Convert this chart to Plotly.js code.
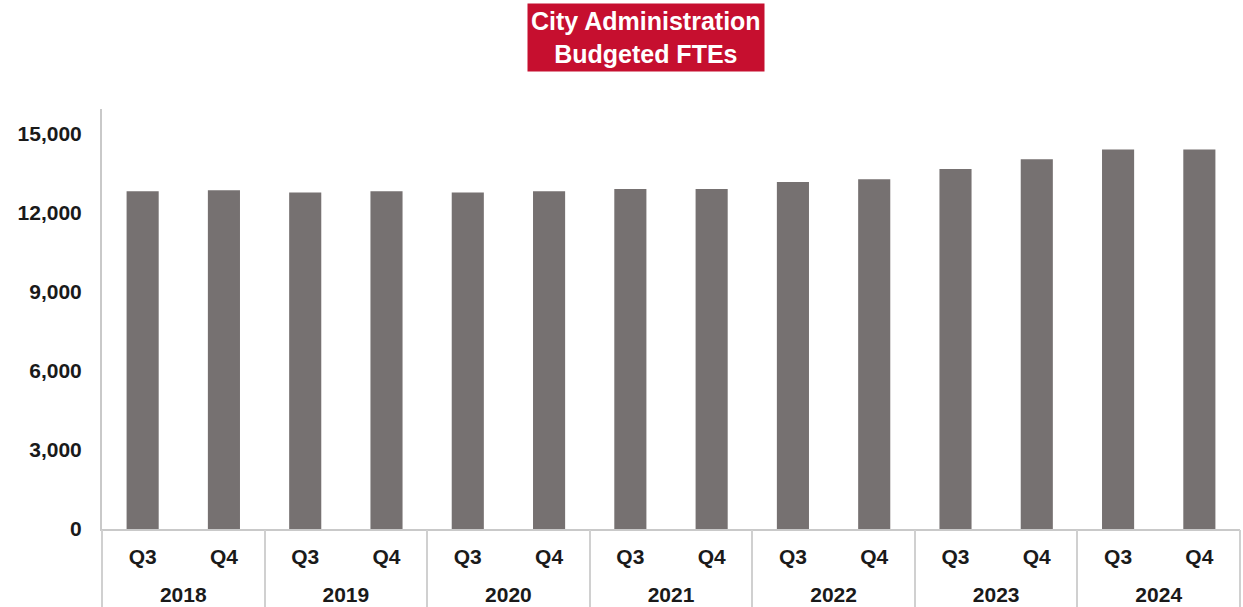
<!DOCTYPE html>
<html>
<head>
<meta charset="utf-8">
<script src="https://cdn.plot.ly/plotly-3.0.1.min.js"></script>
<style>html,body{margin:0;padding:0;background:#fff;}#chart{width:1243px;height:607px;}</style>
</head>
<body>
<div id="chart"></div>
<script>
var years = ["2018","2018","2019","2019","2020","2020","2021","2021","2022","2022","2023","2023","2024","2024"];
var quarters = ["Q3","Q4","Q3","Q4","Q3","Q4","Q3","Q4","Q3","Q4","Q3","Q4","Q3","Q4"];
var ftes = [12830, 12860, 12780, 12830, 12780, 12830, 12910, 12910, 13180, 13280, 13670, 14040, 14410, 14410];
var yearLabels = ["2018","2019","2020","2021","2022","2023","2024"];
var yTickVals = [0, 3000, 6000, 9000, 12000, 15000];
var yTickText = ["0", "3,000", "6,000", "9,000", "12,000", "15,000"];
var titleText = "City Administration<br>Budgeted FTEs";

var cats = years.map(function (y, i) { return y + " " + quarters[i]; });
// year group centres and boundaries in category index units
var yearCenters = yearLabels.map(function (_, i) { return 2 * i + 0.5; });
var dividers = [-0.5].concat(yearLabels.map(function (_, i) { return 2 * i + 1.5; }));

var FONT = "Liberation Sans, Arial, sans-serif";
var tickFont = {size: 21, family: FONT, color: "#1a1a1a", weight: "bold"};

var bars = {
  type: "bar",
  x: cats,
  y: ftes,
  marker: {color: "#767171", line: {width: 0}},
  hoverinfo: "y"
};
// invisible helper traces so the year-label and divider axes are drawn
var yearHelper = {
  type: "scatter", mode: "markers", xaxis: "x2", yaxis: "y",
  x: yearCenters, y: yearCenters.map(function () { return 0; }),
  marker: {opacity: 0, size: 1}, hoverinfo: "skip", showlegend: false
};
var dividerHelper = {
  type: "scatter", mode: "markers", xaxis: "x3", yaxis: "y",
  x: dividers, y: dividers.map(function () { return 0; }),
  marker: {opacity: 0, size: 1}, hoverinfo: "skip", showlegend: false
};

var layout = {
  width: 1243,
  height: 607,
  margin: {l: 102, r: 3, t: 109, b: 78, pad: 0},
  paper_bgcolor: "#ffffff",
  plot_bgcolor: "#ffffff",
  bargap: 0.605,
  showlegend: false,
  font: {family: FONT, color: "#1a1a1a"},
  xaxis: {
    type: "category",
    range: [-0.5, cats.length - 0.5],
    tickvals: cats,
    ticktext: quarters,
    showline: true,
    linecolor: "#c9c9c9",
    linewidth: 2,
    showgrid: false,
    ticks: "",
    ticklabelstandoff: 8,
    tickfont: tickFont
  },
  xaxis2: {
    overlaying: "x",
    anchor: "y",
    side: "bottom",
    type: "linear",
    range: [-0.5, cats.length - 0.5],
    tickvals: yearCenters,
    ticktext: yearLabels,
    showline: false,
    showgrid: false,
    zeroline: false,
    ticks: "",
    ticklabelstandoff: 51,
    tickfont: tickFont
  },
  xaxis3: {
    overlaying: "x",
    anchor: "y",
    side: "bottom",
    type: "linear",
    range: [-0.5, cats.length - 0.5],
    tickvals: dividers,
    showticklabels: false,
    showline: false,
    showgrid: false,
    zeroline: false,
    ticks: "outside",
    ticklen: 80,
    tickwidth: 2,
    tickcolor: "#d0d0d0"
  },
  yaxis: {
    range: [0, 15950],
    tickvals: yTickVals,
    ticktext: yTickText,
    showline: true,
    linecolor: "#c9c9c9",
    linewidth: 2,
    showgrid: false,
    zeroline: false,
    ticks: "",
    ticklabelstandoff: 14,
    tickfont: tickFont
  },
  annotations: [{
    xref: "paper", yref: "paper",
    x: (646 - 102) / 1138, y: 1 + (109 - 37.5) / 420,
    xanchor: "center", yanchor: "middle",
    text: "<b>" + titleText + "</b>",
    showarrow: false,
    bgcolor: "#C60F2F",
    borderpad: 3,
    font: {size: 25, color: "#ffffff", family: FONT}
  }]
};

Plotly.newPlot("chart", [bars, yearHelper, dividerHelper], layout, {displayModeBar: false, staticPlot: true});
</script>
</body>
</html>
